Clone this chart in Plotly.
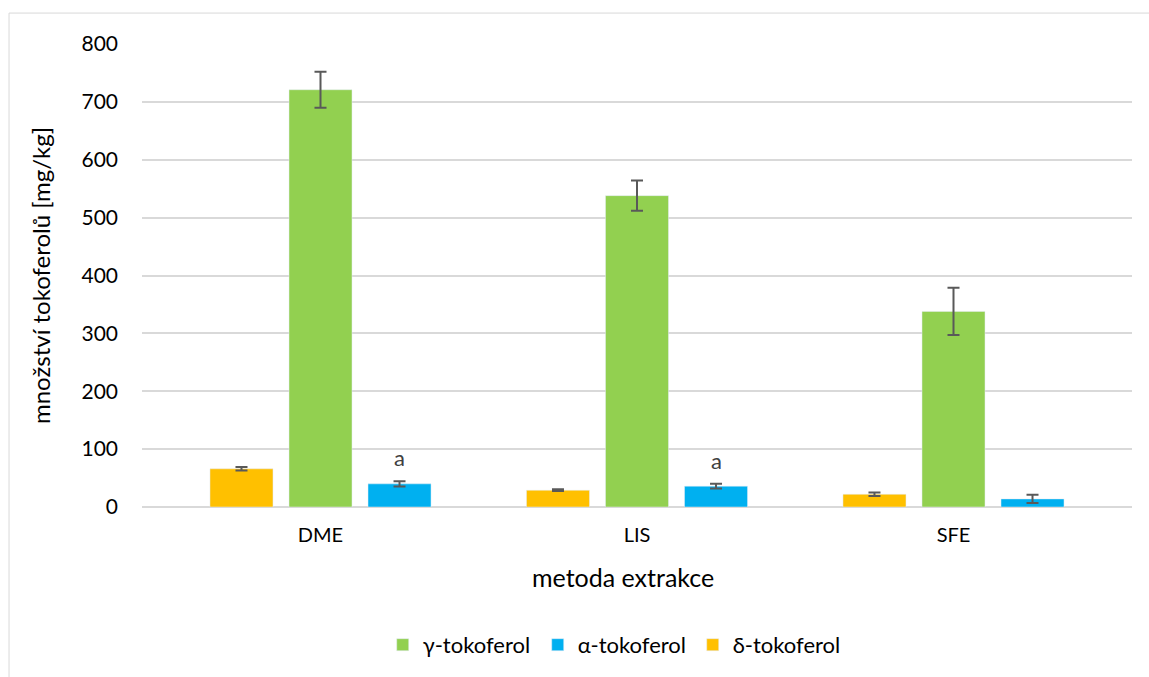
import plotly.graph_objects as go

# Extraction methods and tocopherol contents [mg/kg] with standard deviations
metody = ["DME", "LIS", "SFE"]
delta_tok = [66, 29, 22]
delta_sd = [3, 1.5, 3]
gama_tok = [721, 538, 338]
gama_sd = [31, 26, 41]
alfa_tok = [40, 36, 14]
alfa_sd = [4.5, 4, 7]
alfa_znacky = ["a", "a", ""]

FONT = "Lato, 'Open Sans', sans-serif"
ERR = dict(type="data", thickness=2, width=6, color="#595959")

fig = go.Figure()
fig.add_trace(go.Bar(name="δ-tokoferol", x=metody, y=delta_tok, marker_color="#FFC000",
                     error_y=dict(array=delta_sd, **ERR), legendrank=3))
fig.add_trace(go.Bar(name="γ-tokoferol", x=metody, y=gama_tok, marker_color="#92D050",
                     error_y=dict(array=gama_sd, **ERR), legendrank=1))
fig.add_trace(go.Bar(name="α-tokoferol", x=metody, y=alfa_tok, marker_color="#00B0F0",
                     error_y=dict(array=alfa_sd, **ERR), legendrank=2))

# significance letters above the alpha-tocopherol bars
for m, v, s, z in zip(metody, alfa_tok, alfa_sd, alfa_znacky):
    if z:
        fig.add_annotation(x=m, y=v + s, text=z, showarrow=False, xshift=79,
                           yanchor="bottom", yshift=8,
                           font=dict(family=FONT, size=22, color="#404040"))

# x-axis title
fig.add_annotation(text="metoda extrakce", xref="paper", yref="paper", x=0.486, y=-0.151,
                   xanchor="center", yanchor="middle", showarrow=False,
                   font=dict(family=FONT, size=25, color="#000000"))

# outer chart frame
fig.add_shape(type="rect", xref="paper", yref="paper",
              x0=-0.1343, x1=1.03, y0=-0.4, y1=1.0668,
              line=dict(color="#D9D9D9", width=1), fillcolor="rgba(0,0,0,0)", layer="below")

fig.update_layout(
    width=1149, height=677,
    margin=dict(l=142, r=17, t=44, b=169),
    paper_bgcolor="white", plot_bgcolor="white",
    barmode="group", bargap=0.251, bargroupgap=0.2025,
    font=dict(family=FONT, size=21, color="#000000"),
    showlegend=True,
    legend=dict(orientation="h", x=0.478, xanchor="center", y=-0.295, yanchor="middle",
                font=dict(family=FONT, size=22, color="#000000"),
                traceorder="normal", itemwidth=30, entrywidth=110),
    xaxis=dict(range=[-0.564, 2.564], showgrid=False, showline=False, ticks="",
               ticklabelstandoff=14,
               tickfont=dict(family=FONT, size=20, color="#000000")),
    yaxis=dict(range=[0, 800], dtick=100, showgrid=True, gridcolor="#D9D9D9", gridwidth=1.5,
               zeroline=True, zerolinecolor="#D9D9D9", zerolinewidth=1.5,
               showline=False, ticks="", ticklabelstandoff=23,
               title=dict(text="množství tokoferolů [mg/kg]", standoff=24,
                          font=dict(family=FONT, size=24, color="#000000")),
               tickfont=dict(family=FONT, size=21, color="#000000")),
)

fig.write_html("out.html")
